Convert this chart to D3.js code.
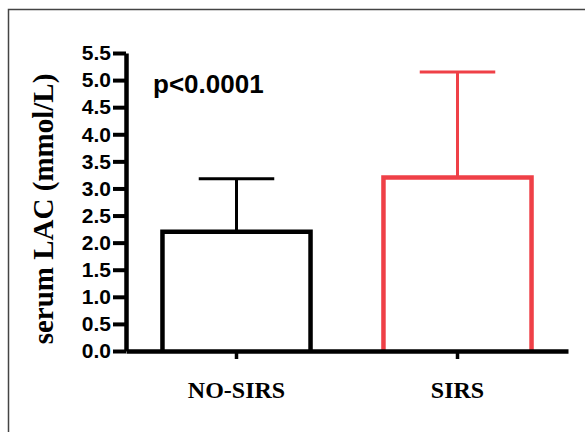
<!DOCTYPE html>
<html>
<head>
    <style>
        body { margin: 0; background: #fff; }
        svg { display: block; }
    </style>
    <script src="https://d3js.org/d3.v7.min.js"></script>
</head>
<body>
    <svg width="585" height="432"></svg>
    <script>
        var groups = ["NO-SIRS", "SIRS"];
        var means = [2.2, 3.2];
        var sds = [0.98, 1.95];
        var colors = ["#000000", "#ef4047"];
        var yTicks = [0, 0.5, 1, 1.5, 2, 2.5, 3, 3.5, 4, 4.5, 5, 5.5];

        var data = groups.map(function (g, i) {
            return { group: g, mean: means[i], sd: sds[i], color: colors[i] };
        });

        var svg = d3.select("svg");

        // frame (only left and top edges visible)
        svg.append("path")
            .attr("d", "M8.5,432V9.5H585")
            .attr("fill", "none")
            .attr("stroke", "#444")
            .attr("stroke-width", 1.5);

        var x = d3.scaleBand().domain(groups).range([126, 568])
            .paddingInner(0.33).paddingOuter(0.165);
        var y = d3.scaleLinear().domain([0, 5.5]).range([351, 53]);

        // error bars first, bars on top
        var err = svg.selectAll(".err").data(data).enter().append("g")
            .attr("stroke", function (d) { return d.color; })
            .attr("stroke-width", 3);
        err.append("line")
            .attr("x1", function (d) { return x(d.group) + x.bandwidth() / 2; })
            .attr("x2", function (d) { return x(d.group) + x.bandwidth() / 2; })
            .attr("y1", function (d) { return y(d.mean); })
            .attr("y2", function (d) { return y(d.mean + d.sd); });
        err.append("line")
            .attr("x1", function (d) { return x(d.group) + x.bandwidth() * 0.245; })
            .attr("x2", function (d) { return x(d.group) + x.bandwidth() * 0.755; })
            .attr("y1", function (d) { return y(d.mean + d.sd); })
            .attr("y2", function (d) { return y(d.mean + d.sd); });

        svg.selectAll(".bar").data(data).enter().append("path")
            .attr("d", function (d) {
                var x0 = x(d.group), x1 = x0 + x.bandwidth();
                return "M" + x0 + "," + y(0) + "V" + y(d.mean) + "H" + x1 + "V" + y(0);
            })
            .attr("fill", "none")
            .attr("stroke", function (d) { return d.color; })
            .attr("stroke-width", 4.5);

        // axes
        var yAxis = svg.append("g")
            .attr("transform", "translate(126,0)")
            .call(d3.axisLeft(y).tickValues(yTicks).tickFormat(d3.format(".1f"))
                .tickSize(13).tickPadding(2).tickSizeOuter(0));
        yAxis.select(".domain").attr("stroke", "#000").attr("stroke-width", 4.5);
        yAxis.selectAll(".tick line").attr("stroke", "#000").attr("stroke-width", 4);
        yAxis.selectAll(".tick text")
            .attr("fill", "#000")
            .style("font", "bold 21px 'Liberation Sans', Arial, sans-serif");

        var xAxis = svg.append("g")
            .attr("transform", "translate(0,351)")
            .call(d3.axisBottom(x).tickSize(8).tickSizeOuter(0).tickFormat(""));
        xAxis.select(".domain").attr("stroke", "#000").attr("stroke-width", 4.5);
        xAxis.selectAll(".tick line").attr("stroke", "#000").attr("stroke-width", 3.5);

        svg.selectAll(".cat").data(data).enter().append("text")
            .attr("x", function (d) { return x(d.group) + x.bandwidth() / 2; })
            .attr("y", 398)
            .attr("text-anchor", "middle")
            .style("font", "bold 24px 'Liberation Serif', 'Times New Roman', serif")
            .text(function (d) { return d.group; });

        svg.append("text")
            .attr("transform", "translate(53,209) rotate(-90)")
            .attr("text-anchor", "middle")
            .style("font", "bold 29px 'Liberation Serif', 'Times New Roman', serif")
            .text("serum LAC (mmol/L)");

        svg.append("text")
            .attr("x", 153)
            .attr("y", 93)
            .style("font", "bold 26px 'Liberation Sans', Arial, sans-serif")
            .text("p<0.0001");
    </script>
</body>
</html>
